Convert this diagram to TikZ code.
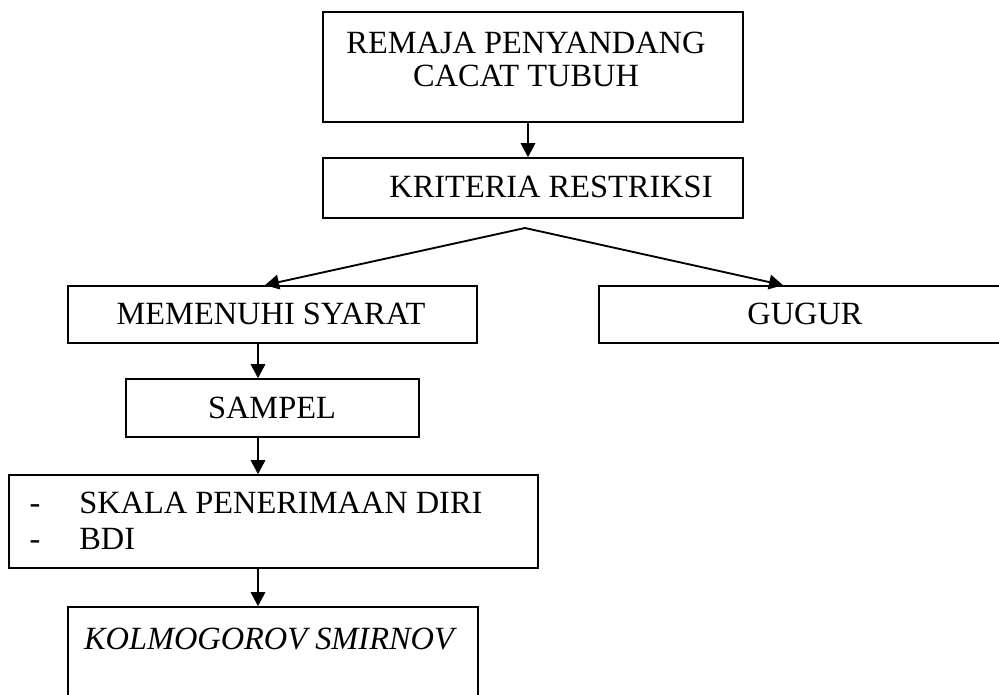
\documentclass[tikz,border=0pt]{standalone}
\usepackage{fontspec}
\setmainfont{Liberation Serif}
\usetikzlibrary{arrows.meta}

\begin{document}
\begin{tikzpicture}[x=0.75pt,y=0.75pt,yscale=-1,xscale=1,
  boxshape/.style={draw, line width=1.3pt, inner sep=0pt},
  boxtext/.style={inner sep=0pt, font=\fontsize{24.3}{24.75}\selectfont},
  flowarrow/.style={-{Triangle[length=10.5pt,width=11pt]}, line width=0.8pt},
  forkarrow/.style={-{Triangle[length=10.5pt,width=11pt]}, line width=1.4pt}]
%set diagram frame at 999 x 695
\useasboundingbox (0,0) rectangle (999,695);
\clip (0,0) rectangle (999,695);

%Shape: Rectangle [id:remaja] 
\node [boxshape, minimum width=315pt, minimum height=82.5pt] (remaja) at (533,67) {};
%Shape: Rectangle [id:kriteria] 
\node [boxshape, minimum width=315pt, minimum height=45pt] (kriteria) at (533,188) {};
%Shape: Rectangle [id:memenuhi] 
\node [boxshape, minimum width=306.75pt, minimum height=42.75pt] (memenuhi) at (272.5,314.5) {};
%Shape: Rectangle [id:gugur] 
\node [boxshape, minimum width=309pt, minimum height=42.75pt] (gugur) at (805,314.5) {};
%Shape: Rectangle [id:sampel] 
\node [boxshape, minimum width=219.75pt, minimum height=43.5pt] (sampel) at (272.5,408) {};
%Shape: Rectangle [id:skala] 
\node [boxshape, minimum width=396.75pt, minimum height=69.75pt] (skala) at (273.5,521.5) {};
%Shape: Rectangle [id:kolmo] 
\node [boxshape, minimum width=307.5pt, minimum height=84.75pt] (kolmo) at (273,663.5) {};

%Straight Lines [id:spine] 
\coordinate (spine) at (258,0);
\coordinate (topspine) at (528,0);
\draw [flowarrow] (remaja.south -| topspine) -- (kriteria.north -| topspine) ;
\draw [flowarrow] (memenuhi.south -| spine) -- (sampel.north -| spine) ;
\draw [flowarrow] (sampel.south -| spine) -- (skala.north -| spine) ;
\draw [flowarrow] (skala.south -| spine) -- (kolmo.north -| spine) ;

%Straight Lines [id:fork] 
\coordinate (fork) at (525,228);
\coordinate (tipL) at (265,0);
\coordinate (tipR) at (783,0);
\draw [forkarrow] (fork) -- (memenuhi.north -| tipL) ;
\draw [forkarrow] (fork) -- (gugur.north -| tipR) ;

% Text Node
\node [boxtext, anchor=north, align=center] (remajatext) at (526,32) {REMAJA PENYANDANG\\CACAT TUBUH};
% Text Node
\node [boxtext, anchor=base] (kriteriatext) at (551,198) {KRITERIA RESTRIKSI};
% Text Node
\node [boxtext, anchor=base] (memenuhitext) at (271,325) {MEMENUHI SYARAT};
% Text Node
\node [boxtext, anchor=base] (gugurtext) at (805,325) {GUGUR};
% Text Node
\node [boxtext, anchor=base] (sampeltext) at (272,418.5) {SAMPEL};
% Text Node
\node [boxtext, anchor=base] (dashA) at (35,513) {-};
\node [boxtext, anchor=base west] (skalatext) at (79,513) {SKALA PENERIMAAN DIRI};
% Text Node
\node [boxtext, anchor=base] (dashB) at (35,549) {-};
\node [boxtext, anchor=base west] (bditext) at (79,549) {BDI};
% Text Node
\node [boxtext, anchor=base] (kolmotext) at (270.5,649) {\textit{KOLMOGOROV SMIRNOV}};

\end{tikzpicture}
\end{document}
